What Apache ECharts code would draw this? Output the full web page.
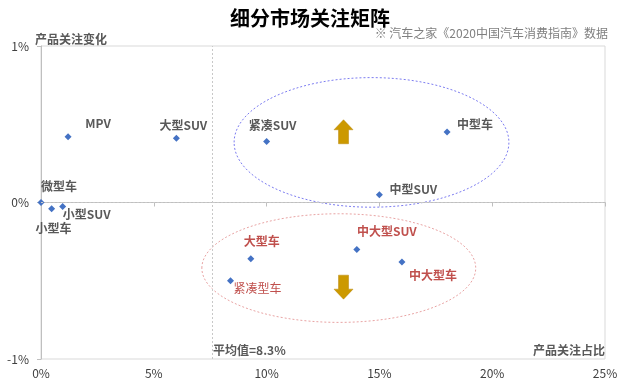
<!DOCTYPE html>
<html><head><meta charset="utf-8">
<script src="https://cdn.jsdelivr.net/npm/echarts@6/dist/echarts.min.js"></script>
<style>html,body{margin:0;padding:0;background:#fff}#c{width:620px;height:390px}</style>
</head><body><div id="c"></div>
<script>
// ---- data ----
const names  = ['微型车','小型车','小型SUV','MPV','大型SUV','紧凑SUV','中型车','中型SUV','大型车','紧凑型车','中大型SUV','中大型车'];
const share  = [0, 0.47, 0.96, 1.2, 6.0, 10.0, 18.0, 15.0, 9.3, 8.4, 14.0, 16.0];      // 产品关注占比 (%)
const change = [0, -0.04, -0.025, 0.42, 0.41, 0.39, 0.45, 0.05, -0.36, -0.50, -0.30, -0.38]; // 产品关注变化 (%)
const avgShare = 7.6;
const avgLabel = '平均值=8.3%';
const xTicks = [0, 5, 10, 15, 20, 25];
const yTicks = [-1, 0, 1];
// groups (ellipse areas): [centerX, centerY, radiusX, radiusY]
const upGroup   = [14.65, 0.384, 6.09, 0.414];
const downGroup = [13.2, -0.419, 6.07, 0.347];
// arrows: [x, y]
const upArrow   = [13.41, 0.452];
const downArrow = [13.41, -0.541];

// ---- styles ----
const FONT = '"Noto Sans CJK SC","Microsoft YaHei",sans-serif';
const redNames = ['大型车','紧凑型车','中大型SUV','中大型车'];
const lightNames = ['紧凑型车'];
const labelOffsets = [[18,-16],[2,20],[24,8],[30,-13],[7,-13],[6,-16],[28,-8],[34,-5],[11,-17],[27,8],[30,-18],[31,13]];

const points = names.map((n, i) => ({
  name: n,
  value: [share[i], change[i]],
  label: {
    offset: labelOffsets[i],
    color: redNames.includes(n) ? '#C0504D' : '#595959',
    fontWeight: lightNames.includes(n) ? 'normal' : 'bold'
  }
}));

const upPath = 'path://M9.5,0 L19,10 L14.5,10 L14.5,24 L4.5,24 L4.5,10 L0,10 Z';
const downPath = 'path://M4.5,0 L14.5,0 L14.5,14 L19,14 L9.5,24 L0,14 L4.5,14 Z';

const chart = echarts.init(document.getElementById('c'), null, {renderer: 'canvas'});
chart.setOption({
  animation: false,
  textStyle: {fontFamily: FONT},
  title: {
    text: '细分市场关注矩阵', left: 'center', top: 3,
    textStyle: {fontSize: 20, fontWeight: 'bold', color: '#000', fontFamily: FONT}
  },
  graphic: [
    {type: 'text', right: 12, top: 27, style: {text: '※ 汽车之家《2020中国汽车消费指南》数据', fill: '#7F7F7F', font: '12px ' + FONT}},
    {type: 'text', left: 35, top: 33, style: {text: '产品关注变化', fill: '#595959', font: 'bold 12px ' + FONT}},
    {type: 'text', left: 213, top: 344, style: {text: avgLabel, fill: '#595959', font: 'bold 12px ' + FONT}},
    {type: 'text', right: 15, top: 344, style: {text: '产品关注占比', fill: '#595959', font: 'bold 12px ' + FONT}}
  ],
  grid: {left: 41, right: 15, top: 46, bottom: 31, containLabel: false, outerBoundsMode: 'none',
         show: true, borderColor: '#D9D9D9', borderWidth: 1, backgroundColor: 'transparent'},
  xAxis: {
    type: 'value', min: xTicks[0], max: xTicks[xTicks.length - 1], interval: xTicks[1] - xTicks[0],
    axisLine: {show: true, lineStyle: {color: '#BFBFBF'}},
    axisTick: {show: true, length: 4, lineStyle: {color: '#BFBFBF'}},
    axisLabel: {formatter: '{value}%', color: '#404040', fontSize: 12, margin: 8, fontFamily: FONT},
    splitLine: {show: false}
  },
  yAxis: {
    type: 'value', min: yTicks[0], max: yTicks[yTicks.length - 1], interval: yTicks[1] - yTicks[0],
    axisLine: {show: true, onZero: false, lineStyle: {color: '#BFBFBF'}},
    axisTick: {show: true, length: 4, lineStyle: {color: '#BFBFBF'}},
    axisLabel: {formatter: '{value}%', color: '#404040', fontSize: 12, margin: 12, fontFamily: FONT},
    splitLine: {show: false}
  },
  series: [
    {
      type: 'custom',
      coordinateSystem: 'cartesian2d',
      silent: true, clip: false, z: 1,
      data: [upGroup, downGroup],
      renderItem: function (params, api) {
        const c = api.coord([api.value(0), api.value(1)]);
        const s = api.size([api.value(2), api.value(3)]);
        const stroke = params.dataIndex === 0 ? '#7C7CF0' : '#E8A3A3';
        return {
          type: 'ellipse',
          shape: {cx: c[0], cy: c[1], rx: s[0], ry: s[1]},
          style: {fill: null, stroke: stroke, lineWidth: 1, lineDash: [2, 2]}
        };
      }
    },
    {
      type: 'scatter',
      z: 3,
      symbol: 'diamond',
      symbolSize: 7,
      itemStyle: {color: '#4472C4', opacity: 1},
      label: {show: true, position: 'inside', formatter: '{b}', fontSize: 12, align: 'center', verticalAlign: 'middle', fontFamily: FONT},
      data: points,
      markLine: {
        silent: true, symbol: 'none',
        label: {show: false},
        lineStyle: {color: '#C8C8C8', type: [2, 2], width: 1},
        data: [{yAxis: 0}, {xAxis: avgShare}]
      }
    },
    {
      type: 'scatter',
      z: 2,
      silent: true,
      itemStyle: {color: '#CC9900', borderColor: '#B8860B', borderWidth: 0.5, opacity: 1},
      data: [
        {value: upArrow, symbol: upPath, symbolSize: [19, 24]},
        {value: downArrow, symbol: downPath, symbolSize: [19, 24]}
      ]
    }
  ]
});
</script></body></html>
